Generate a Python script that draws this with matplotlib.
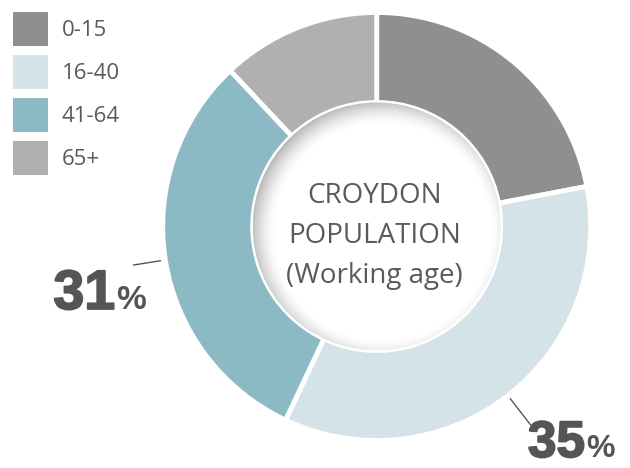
import numpy as np
import matplotlib
matplotlib.use("Agg")
import matplotlib.pyplot as plt
from matplotlib.patches import Circle, Patch
import matplotlib.patheffects as pe

categories = ["0-15", "16-40", "41-64", "65+"]
values = [22, 35, 31, 12]
colors = ["#8f8f8f", "#d4e3e8", "#8bbac5", "#b0b0b0"]
labelled = {"16-40": "35", "41-64": "31"}
center_lines = "CROYDON\nPOPULATION\n(Working age)"

W, H = 630, 468
fig = plt.figure(figsize=(W / 100, H / 100), dpi=100)
ax = fig.add_axes([0, 0, 1, 1])
ax.axis("off")

cx, cy = 376.7, H - 226.5
R = 214.0
r_in = 124.0
wedges, _ = ax.pie(values, colors=colors, startangle=90, counterclock=False,
                   center=(cx, cy), radius=R,
                   wedgeprops=dict(width=R - r_in, edgecolor="white", linewidth=3.5))

# hole with soft inner shadow (light from lower right)
hole = Circle((cx, cy), r_in, facecolor="white", edgecolor="none", zorder=3)
ax.add_patch(hole)
gx = np.linspace(cx - r_in, cx + r_in, 300)
gy = np.linspace(cy - r_in, cy + r_in, 300)
GX, GY = np.meshgrid(gx, gy)
d = np.hypot(GX - (cx + 6), GY - (cy - 6))
a = np.clip((d - (r_in - 16)) / 24.0, 0, 1) ** 1.6 * 0.5
img = np.zeros((300, 300, 4))
img[..., :3] = 0.45
img[..., 3] = a
im = ax.imshow(img, extent=(cx - r_in, cx + r_in, cy - r_in, cy + r_in),
               origin="lower", zorder=3.5, interpolation="bilinear")
im.set_clip_path(hole)
ax.set_xlim(0, W)
ax.set_ylim(0, H)
ax.set_aspect("equal")

ax.text(cx - 2, H - 236, center_lines, ha="center", va="center", fontsize=20,
        color="#5a5a5a", family="Open Sans", linespacing=1.58, zorder=5)

# percentage labels with leader lines
lab_cfg = {
    "16-40": dict(r0=218, r1=251, x=585, y=457, size=37, psize=23),
    "41-64": dict(r0=219, r1=246, x=115, y=309, size=40, psize=24),
}
stroke = [pe.withStroke(linewidth=1.3, foreground="#555555")]
for w, cat in zip(wedges, categories):
    if cat not in labelled:
        continue
    cfg = lab_cfg[cat]
    ang = np.deg2rad((w.theta1 + w.theta2) / 2)
    xs = [cx + cfg["r0"] * np.cos(ang), cx + cfg["r1"] * np.cos(ang)]
    ys = [cy + cfg["r0"] * np.sin(ang), cy + cfg["r1"] * np.sin(ang)]
    ax.plot(xs, ys, color="#555555", lw=1.0, zorder=4)
    ax.text(cfg["x"], H - cfg["y"], labelled[cat], ha="right", va="baseline",
            fontsize=cfg["size"], fontweight="bold", color="#555555",
            family="Liberation Sans", zorder=5, path_effects=stroke)
    ax.text(cfg["x"] + 1, H - cfg["y"], "%", ha="left", va="baseline",
            fontsize=cfg["psize"], fontweight="bold", color="#555555",
            family="Liberation Sans", zorder=5)

handles = [Patch(facecolor=c, edgecolor="none") for c in colors]
leg = ax.legend(handles, categories, loc="upper left",
                bbox_to_anchor=(13 / W, 1 - 12 / H), frameon=False,
                borderpad=0, borderaxespad=0, handlelength=1.58, handleheight=1.98,
                labelspacing=0.405, handletextpad=0.6,
                prop=dict(family="Open Sans", size=16))
for t in leg.get_texts():
    t.set_color("#5a5a5a")

fig.savefig("out.png", dpi=100)
